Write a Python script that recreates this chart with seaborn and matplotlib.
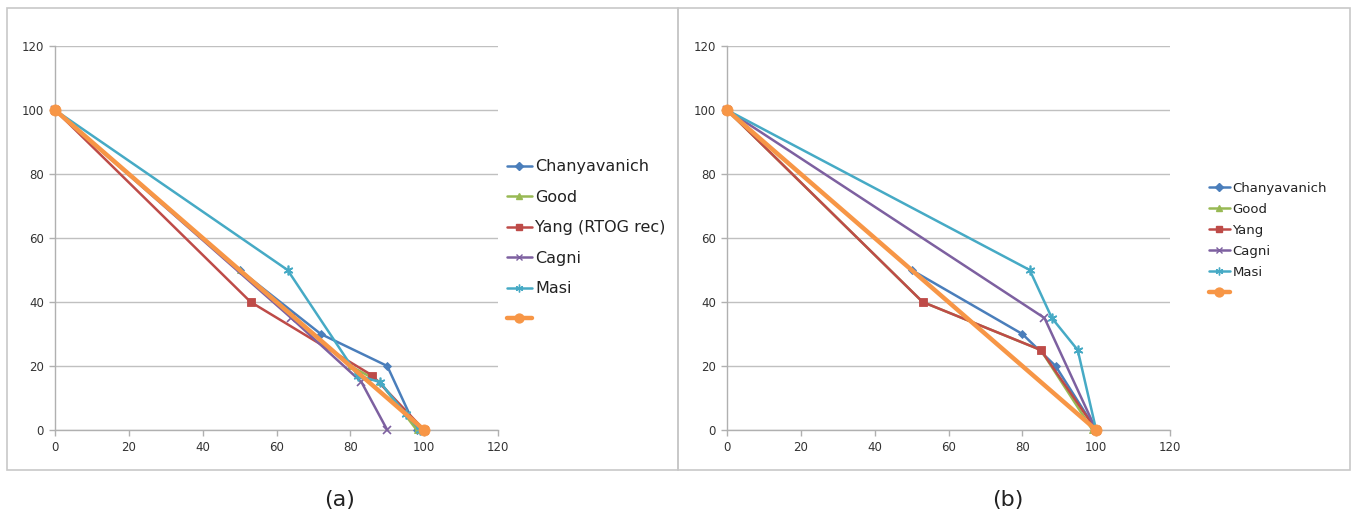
import matplotlib
matplotlib.use("Agg")
import matplotlib.pyplot as plt
from matplotlib.lines import Line2D
from matplotlib.patches import Rectangle
import seaborn as sns
import pandas as pd

sns.set_theme(style="white")
plt.rcParams['font.family'] = ['DejaVu Sans']

# ---------------- data ----------------
# Panel (a)
a_chany_x = [0, 50, 72, 90, 98]
a_chany_y = [100, 50, 30, 20, 0]
a_good_x = [0, 50, 80, 88, 98]
a_good_y = [100, 50, 20, 15, 0]
a_yang_x = [0, 53, 86, 100]
a_yang_y = [100, 40, 17, 0]
a_cagni_x = [0, 64, 83, 90]
a_cagni_y = [100, 35, 15, 0]
a_masi_x = [0, 63, 82, 88, 95, 99]
a_masi_y = [100, 50, 17, 15, 5, 0]
a_ref_x = [0, 100]
a_ref_y = [100, 0]

# Panel (b)
b_chany_x = [0, 50, 80, 89, 100]
b_chany_y = [100, 50, 30, 20, 0]
b_good_x = [0, 53, 85, 99]
b_good_y = [100, 40, 25, 0]
b_yang_x = [0, 53, 85, 100]
b_yang_y = [100, 40, 25, 0]
b_cagni_x = [0, 86, 100]
b_cagni_y = [100, 35, 0]
b_masi_x = [0, 82, 88, 95, 100]
b_masi_y = [100, 50, 35, 25, 0]
b_ref_x = [0, 100]
b_ref_y = [100, 0]

labels_a = ["Chanyavanich", "Good", "Yang (RTOG rec)", "Cagni", "Masi", ""]
labels_b = ["Chanyavanich", "Good", "Yang", "Cagni", "Masi", ""]
ticks = [0, 20, 40, 60, 80, 100, 120]
captions = ["(a)", "(b)"]

# ---------------- styles ----------------
colors = ["#4A7EBB", "#98B954", "#BE4B48", "#7D60A0", "#46AAC5", "#F79646"]
markers = ["D", "^", "s", "x", (6, 2, 0), "o"]
msizes = [4.5, 5, 6, 6, 7, 8]
lwidths = [1.8, 1.8, 1.8, 1.8, 1.8, 3.2]

W, H = 1357, 529
fig = plt.figure(figsize=(W / 100, H / 100), dpi=100)

# panel frames
for x0, x1 in [(7, 678), (678, 1350)]:
    fig.patches.append(Rectangle((x0 / W, 1 - 470 / H), (x1 - x0) / W, (470 - 8) / H,
                                 transform=fig.transFigure, fill=False,
                                 edgecolor="#C8C8C8", linewidth=1.2))

axw = (498 - 55) / W
axh = (430 - 46) / H
axb = 1 - 430 / H
ax_a = fig.add_axes([55 / W, axb, axw, axh])
ax_b = fig.add_axes([727 / W, axb, axw, axh])

panels = [
    (ax_a, [(a_chany_x, a_chany_y), (a_good_x, a_good_y), (a_yang_x, a_yang_y),
            (a_cagni_x, a_cagni_y), (a_masi_x, a_masi_y), (a_ref_x, a_ref_y)],
     labels_a, (1.005, 0.722), 0.97, 11.5),
    (ax_b, [(b_chany_x, b_chany_y), (b_good_x, b_good_y), (b_yang_x, b_yang_y),
            (b_cagni_x, b_cagni_y), (b_masi_x, b_masi_y), (b_ref_x, b_ref_y)],
     labels_b, (1.075, 0.66), 0.6, 9.5),
]

for i, (ax, series, labels, lpos, lspace, lfs) in enumerate(panels):
    handles = []
    for k, (xs, ys) in enumerate(series):
        df = pd.DataFrame({"x": xs, "y": ys})
        sns.lineplot(data=df, x="x", y="y", ax=ax, sort=False, color=colors[k],
                     marker=markers[k], markersize=msizes[k], linewidth=lwidths[k],
                     markeredgecolor=colors[k], markeredgewidth=1.2 if k in (3, 4) else 0.6,
                     clip_on=False, zorder=3 + (1 if k == 5 else 0))
        handles.append(Line2D([], [], color=colors[k], marker=markers[k],
                              markersize=msizes[k] * 0.8, linewidth=lwidths[k],
                              markeredgecolor=colors[k]))
    ax.set_xlim(0, 120)
    ax.set_ylim(0, 120)
    ax.set_xticks(ticks)
    ax.set_yticks(ticks)
    ax.set_xlabel("")
    ax.set_ylabel("")
    ax.grid(axis="y", color="#C0C0C0", linewidth=1.0)
    ax.grid(axis="x", visible=False)
    for s in ["top", "right"]:
        ax.spines[s].set_visible(False)
    for s in ["left", "bottom"]:
        ax.spines[s].set_color("#B0B0B0")
        ax.spines[s].set_linewidth(1.0)
    ax.tick_params(axis="both", which="major", direction="out", length=4, width=1,
                   color="#B0B0B0", labelsize=8.5, labelcolor="#333333", pad=4,
                   bottom=True, left=True)
    ax.set_facecolor("white")
    leg = ax.legend(handles, labels, loc="upper left", bbox_to_anchor=lpos,
                    frameon=False, fontsize=lfs, handlelength=1.6, handletextpad=0.2,
                    labelspacing=lspace, borderaxespad=0)
    for t in leg.get_texts():
        t.set_color("#222222")
    fig.text((340 if i == 0 else 1008) / W, 1 - 500 / H, captions[i], fontsize=16,
             ha="center", va="center", color="#222222")

fig.savefig("out.png", dpi=100)
